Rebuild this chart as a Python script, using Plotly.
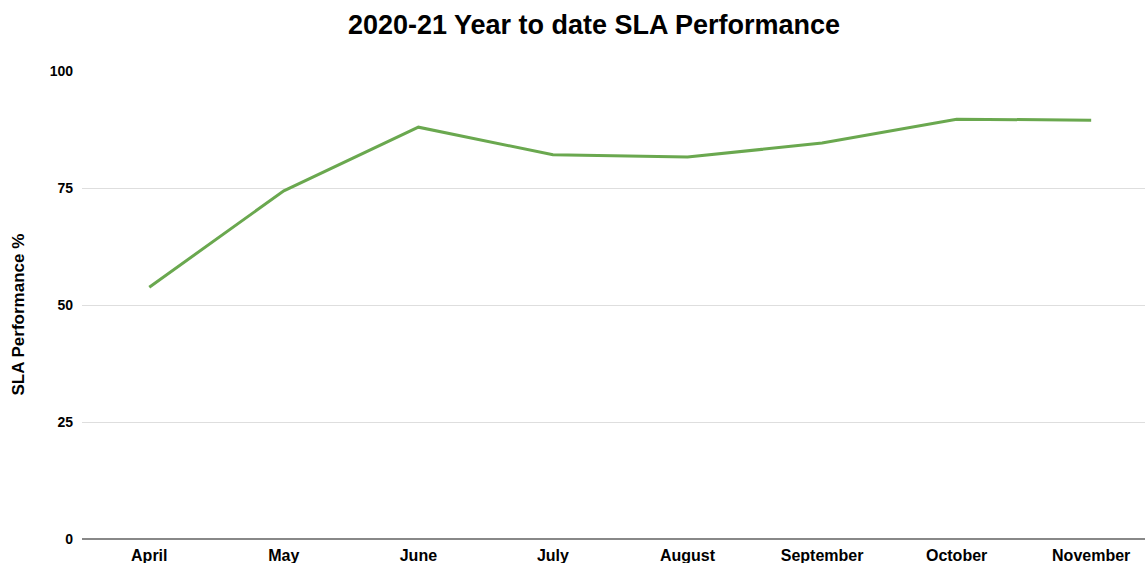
import plotly.graph_objects as go

months = ["April", "May", "June", "July", "August", "September", "October", "November"]
sla_values = [53.8, 74.4, 88.0, 82.1, 81.6, 84.6, 89.7, 89.5]
y_ticks = [0, 25, 50, 75, 100]

fig = go.Figure()
fig.add_trace(go.Scatter(
    x=months, y=sla_values, mode="lines",
    line=dict(color="#6aa84f", width=3),
    hoverinfo="x+y", showlegend=False,
))

fig.update_layout(
    width=1145, height=563,
    margin=dict(l=82, r=0, t=71, b=24),
    paper_bgcolor="white", plot_bgcolor="white",
    font=dict(family="Liberation Sans, Arial, sans-serif", color="#000000"),
    title=dict(
        text="<b>2020-21 Year to date SLA Performance</b>",
        x=594/1145, xref="container", xanchor="center",
        y=1-25/563, yref="container", yanchor="middle",
        font=dict(size=27, color="#000000"),
    ),
    xaxis=dict(
        type="category", range=[-0.5, 7.4],
        showgrid=False, zeroline=False,
        showline=False,
        tickfont=dict(size=16, color="#000000"),
        ticks="", ticklabelstandoff=5, fixedrange=True,
        tickvals=months, ticktext=[f"<b>{m}</b>" for m in months],
    ),
    yaxis=dict(
        range=[0, 100], tickvals=y_ticks,
        ticktext=[f"<b>{v}</b>" for v in y_ticks],
        showgrid=True, gridcolor="#dedede", gridwidth=1,
        zeroline=True, zerolinecolor="#888888", zerolinewidth=1.5,
        showline=False, ticks="",
        ticklabelstandoff=8,
        tickfont=dict(size=14, color="#000000"),
        automargin=False, fixedrange=True,
    ),
    annotations=[dict(
        text="<b>SLA Performance %</b>", textangle=-90,
        xref="paper", yref="paper", x=-0.06, y=0.48,
        xanchor="center", yanchor="middle", showarrow=False,
        font=dict(size=17, color="#000000"),
    )],
)

fig.write_html("out.html", config={"displayModeBar": False},
               post_script="document.body.style.margin='0';document.body.style.overflow='hidden';")
